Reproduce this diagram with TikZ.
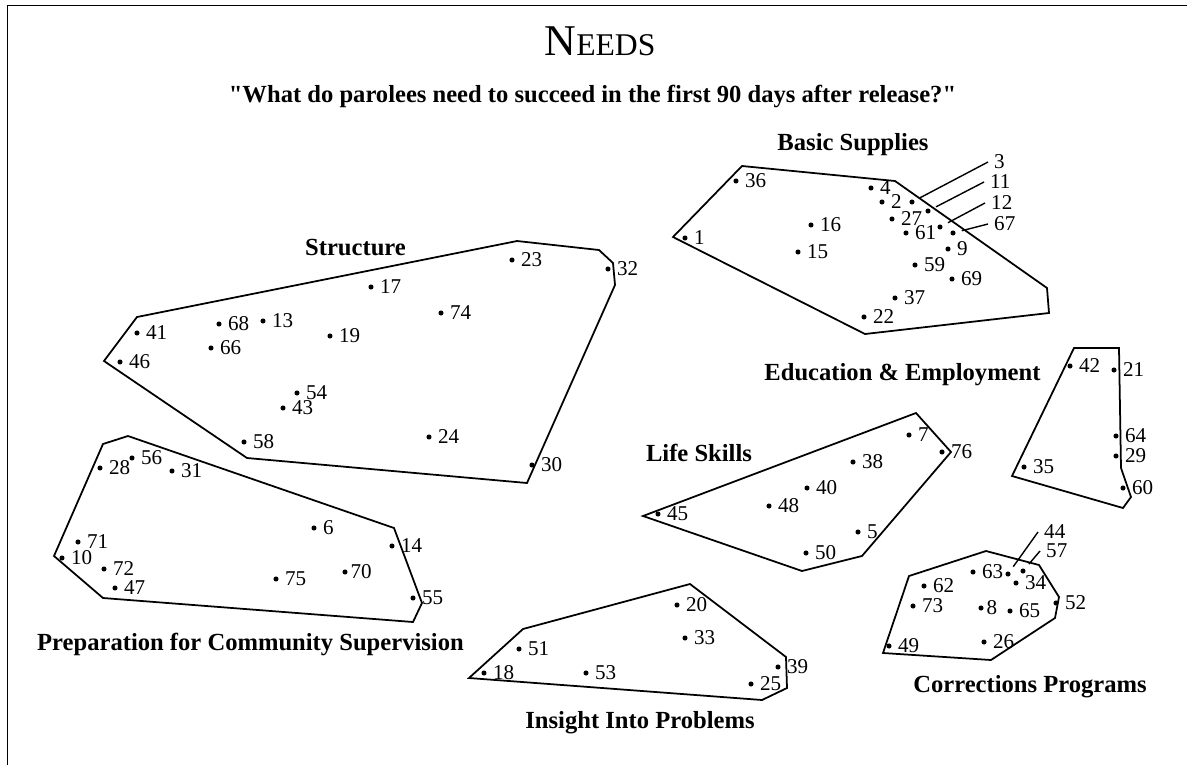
\documentclass[tikz,border=0pt]{standalone}
\usepackage{fontspec}
\setmainfont{Liberation Serif}
\usepackage{tikz}
\usetikzlibrary{positioning}

\begin{document}
\begin{tikzpicture}[x=0.02cm,y=-0.02cm,
    pt/.style={circle,fill=black,inner sep=0pt,minimum size=2.9pt},
    num/.style={font=\fontsize{12}{14}\selectfont},
    hull/.style={line width=1pt,line join=miter},
    clus/.style={font=\fontsize{14}{17}\selectfont\bfseries,anchor=base},
    lead/.style={line width=0.8pt,shorten <=3.5pt},
    frame/.style={line width=1.1pt}
  ]
    \useasboundingbox (0,0) rectangle (1187,765);
    \draw[frame] (7.5,765) -- (7.5,5.5) -- (1187,5.5);
    % title
    \node[anchor=base] (title) at (600,55) {{\fontsize{25}{30}\selectfont N}{\fontsize{18}{22}\selectfont EEDS}};
    \node[clus] (quest) at (592.5,102) {\textquotedbl What do parolees need to succeed in the first 90 days after release?\textquotedbl};
    % Basic Supplies
    \node[clus] (tbasic) at (853,150) {Basic Supplies};
    \draw[hull] (742,166) -- (895,181) -- (1047,288) -- (1049,313) -- (865,334) -- (673,237) -- cycle;
    \node[pt,label={[num]right:36}] (p36) at (736,181) {};
    \node[pt,label={[num]right:4}] (p4) at (871,188) {};
    \node[pt,label={[num]right:2}] (p2) at (882,202) {};
    \node[pt] (p3) at (912,202) {};
    \node[pt] (p11) at (928,211) {};
    \node[pt,label={[num]right:27}] (p27) at (892,219) {};
    \node[pt] (p12) at (940,227) {};
    \node[pt] (p67) at (953,233) {};
    \node[pt,label={[num]right:61}] (p61) at (906,233) {};
    \node[pt,label={[num]right:9}] (p9) at (948,249) {};
    \node[pt,label={[num]right:16}] (p16) at (811,225) {};
    \node[pt,label={[num]right:1}] (p1) at (685,238) {};
    \node[pt,label={[num]right:15}] (p15) at (798,252) {};
    \node[pt,label={[num]right:59}] (p59) at (915,265) {};
    \node[pt,label={[num]right:69}] (p69) at (952,279) {};
    \node[pt,label={[num]right:37}] (p37) at (895,298) {};
    \node[pt,label={[num]right:22}] (p22) at (864,317) {};
    \node[num,anchor=west] (l3) at (988,162) {3};
    \node[num,anchor=west] (l11) at (984,182) {11};
    \node[num,anchor=west] (l12) at (985,203) {12};
    \node[num,anchor=west] (l67) at (988,224) {67};
    \draw[lead] (p3) -- (l3.west);
    \draw[lead] (p11) -- (l11.west);
    \draw[lead] (p12) -- (l12.west);
    \draw[lead] (p67) -- (l67.west);
    % Structure
    \node[clus] (tstruct) at (355.5,255) {Structure};
    \draw[hull] (137,317) -- (517,241) -- (599,250) -- (613,263) -- (615,285) -- (527,483) -- (247,458) -- (104,361) -- cycle;
    \node[pt,label={[num]right:23}] (p23) at (512,260) {};
    \node[pt,label={[num]right:32}] (p32) at (608,269) {};
    \node[pt,label={[num]right:17}] (p17) at (371,287) {};
    \node[pt,label={[num]right:74}] (p74) at (441,313) {};
    \node[pt,label={[num]right:68}] (p68) at (219,324) {};
    \node[pt,label={[num]right:13}] (p13) at (263,321) {};
    \node[pt,label={[num]right:41}] (p41) at (137,333) {};
    \node[pt,label={[num]right:19}] (p19) at (330,336) {};
    \node[pt,label={[num]right:66}] (p66) at (211,348) {};
    \node[pt,label={[num]right:46}] (p46) at (120,362) {};
    \node[pt,label={[num]right:54}] (p54) at (297,393) {};
    \node[pt,label={[num]right:43}] (p43) at (283,408) {};
    \node[pt,label={[num]right:58}] (p58) at (244,442) {};
    \node[pt,label={[num]right:24}] (p24) at (429,437) {};
    \node[pt,label={[num]right:30}] (p30) at (532,465) {};
    % Preparation for Community Supervision
    \node[clus] (tprep) at (250.5,650) {Preparation for Community Supervision};
    \draw[hull] (103,444) -- (128,436) -- (394,528) -- (422,603) -- (413,622) -- (103,598) -- (54,556) -- cycle;
    \node[pt,label={[num]right:28}] (p28) at (100,468) {};
    \node[pt,label={[num]right:56}] (p56) at (132,458) {};
    \node[pt,label={[num]right:31}] (p31) at (172,471) {};
    \node[pt,label={[num]right:6}] (p6) at (314,528) {};
    \node[pt,label={[num]right:14}] (p14) at (392,546) {};
    \node[pt,label={[num]right:71}] (p71) at (78,542) {};
    \node[pt,label={[num]right:10}] (p10) at (62,558) {};
    \node[pt,label={[num]right:72}] (p72) at (104,569) {};
    \node[pt,label={[num]right:47}] (p47) at (115,588) {};
    \node[pt,label={[num]right:75}] (p75) at (276,579) {};
    \node[pt,label={[num,label distance=-2pt]right:70}] (p70) at (345,572) {};
    \node[pt,label={[num]right:55}] (p55) at (413,598) {};
    % Life Skills
    \node[clus] (tlife) at (699,461.5) {Life Skills};
    \draw[hull] (643,516) -- (916,413) -- (951,452) -- (862,556) -- (802,571) -- cycle;
    \node[pt,label={[num]right:7}] (p7) at (909,435) {};
    \node[pt,label={[num]right:76}] (p76) at (942,452) {};
    \node[pt,label={[num]right:38}] (p38) at (853,462) {};
    \node[pt,label={[num]right:40}] (p40) at (807,488) {};
    \node[pt,label={[num]right:48}] (p48) at (769,506) {};
    \node[pt,label={[num]right:45}] (p45) at (658,514) {};
    \node[pt,label={[num]right:5}] (p5) at (858,532) {};
    \node[pt,label={[num]right:50}] (p50) at (806,553) {};
    % Education & Employment
    \node[clus] (tedu) at (902.5,380) {Education \& Employment};
    \draw[hull] (1074,348) -- (1119,348) -- (1121,468) -- (1131,497) -- (1123,508) -- (1012,476) -- cycle;
    \node[pt,label={[num]right:42}] (p42) at (1070,366) {};
    \node[pt,label={[num]right:21}] (p21) at (1114,370) {};
    \node[pt,label={[num]right:64}] (p64) at (1116,436) {};
    \node[pt,label={[num]right:29}] (p29) at (1116,456) {};
    \node[pt,label={[num]right:35}] (p35) at (1024,467) {};
    \node[pt,label={[num]right:60}] (p60) at (1123,488) {};
    % Corrections Programs
    \node[clus] (tcorr) at (1030,692) {Corrections Programs};
    \draw[hull] (909,576) -- (986,551) -- (1039,565) -- (1059,597) -- (1055,618) -- (991,660) -- (883,653) -- cycle;
    \node[pt,label={[num]right:63}] (p63) at (973,572) {};
    \node[pt] (p44) at (1008,574) {};
    \node[pt] (p57) at (1023,571) {};
    \node[pt,label={[num]right:34}] (p34) at (1016,583) {};
    \node[pt,label={[num]right:62}] (p62) at (924,586) {};
    \node[pt,label={[num]right:73}] (p73) at (913,606) {};
    \node[pt,label={[num,label distance=-2pt]right:8}] (p8) at (981,608) {};
    \node[pt,label={[num]right:65}] (p65) at (1010,611) {};
    \node[pt,label={[num]right:52}] (p52) at (1056,603) {};
    \node[pt,label={[num]right:26}] (p26) at (984,642) {};
    \node[pt,label={[num]right:49}] (p49) at (889,646) {};
    \node[num,anchor=west] (l44) at (1038,532) {44};
    \node[num,anchor=west] (l57) at (1040,551) {57};
    \draw[lead] (p44) -- (l44.west);
    \draw[lead] (p57) -- (l57.west);
    % Insight Into Problems
    \node[clus] (tinsight) at (640,728) {Insight Into Problems};
    \draw[hull] (523,629) -- (690,584) -- (786,657) -- (787,688) -- (762,700) -- (469,678) -- cycle;
    \node[pt,label={[num]right:20}] (p20) at (677,605) {};
    \node[pt,label={[num]right:33}] (p33) at (685,638) {};
    \node[pt,label={[num]right:51}] (p51) at (519,649) {};
    \node[pt,label={[num]right:18}] (p18) at (484,673) {};
    \node[pt,label={[num]right:53}] (p53) at (586,673) {};
    \node[pt,label={[num]right:39}] (p39) at (778,667) {};
    \node[pt,label={[num]right:25}] (p25) at (751,684) {};
  \end{tikzpicture}
\end{document}
